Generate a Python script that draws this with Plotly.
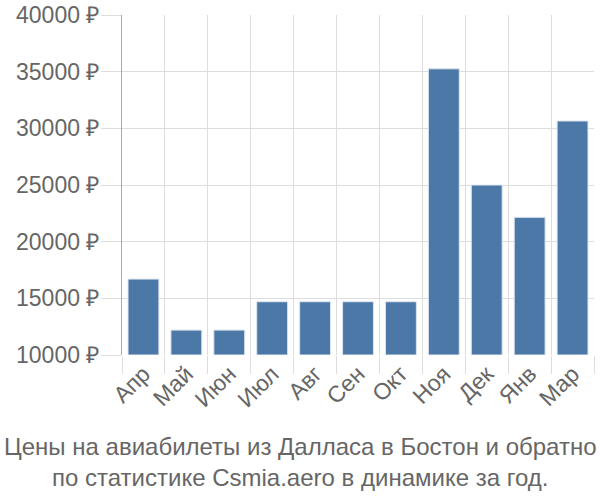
import plotly.graph_objects as go

months = ["Апр", "Май", "Июн", "Июл", "Авг", "Сен", "Окт", "Ноя", "Дек", "Янв", "Мар"]
prices = [16700, 12200, 12200, 14700, 14700, 14700, 14700, 35250, 25000, 22150, 30650]
base_value = 10000
y_ticks = [10000, 15000, 20000, 25000, 30000, 35000, 40000]
y_tick_labels = [f"{v} ₽" for v in y_ticks]
title_lines = ["Цены на авиабилеты из Далласа в Бостон и обратно",
               "по статистике Csmia.aero в динамике за год."]

fig = go.Figure()
fig.add_trace(go.Bar(
    x=months,
    y=[p - base_value for p in prices],
    base=base_value,
    marker=dict(color="#4c78a8", line=dict(color="#dde6f0", width=1)),
    width=0.72,
    hoverinfo="skip",
))

fig.update_layout(
    width=600, height=500,
    margin=dict(l=122, r=6, t=15, b=145, autoexpand=False),
    plot_bgcolor="white", paper_bgcolor="white",
    font=dict(family="Liberation Sans, Arial, sans-serif", color="#666666", size=23),
    showlegend=False,
    bargap=0.28,
    annotations=[dict(
        text="<br>".join(title_lines),
        xref="paper", yref="paper", x=(300 - 122) / 472, y=0,
        xanchor="center", yanchor="top", yshift=-76,
        showarrow=False, font=dict(size=24, color="#666666"), align="center",
    )],
)
fig.update_xaxes(
    showgrid=True, gridcolor="#dddddd", gridwidth=1,
    tickson="boundaries", ticks="outside", ticklen=18, tickcolor="#dddddd",
    tickangle=-45, showline=False, automargin=False,
    tickfont=dict(size=23, color="#666666"),
)
fig.update_yaxes(
    range=[base_value, 40000],
    tickvals=y_ticks, ticktext=y_tick_labels,
    showgrid=True, gridcolor="#dddddd", gridwidth=1,
    ticks="outside", ticklen=20, tickcolor="#dddddd",
    ticklabelstandoff=-3,
    showline=True, linecolor="#aaaaaa", linewidth=1,
    zeroline=False, automargin=False,
    tickfont=dict(size=23, color="#666666"),
)

fig.write_html("out.html")
